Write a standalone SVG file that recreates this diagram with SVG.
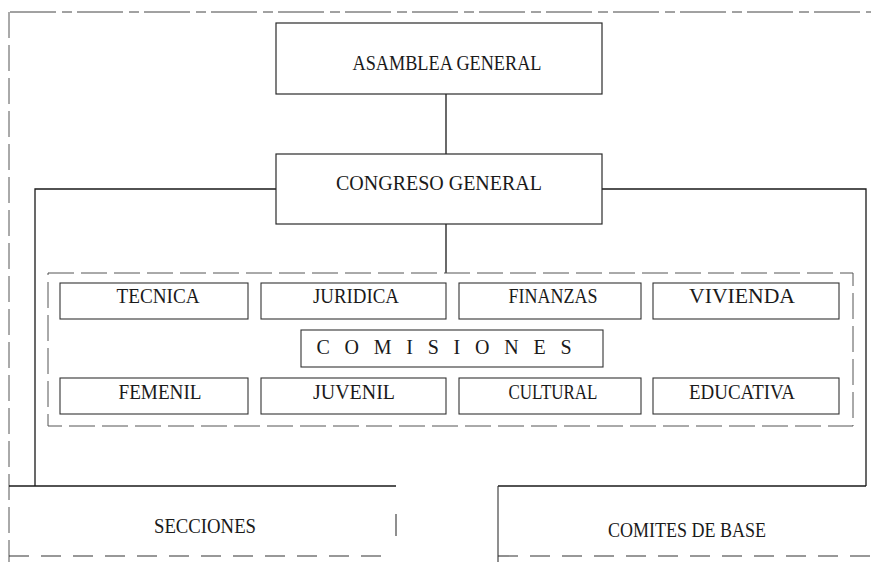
<svg xmlns="http://www.w3.org/2000/svg" width="871" height="562" viewBox="0 0 871 562">
<style>
  .bg{fill:#ffffff}
  .box{fill:none;stroke:#2a2a2a;stroke-width:1.2}
  .sub{fill:none;stroke:#333333;stroke-width:1.1}
  .frame{fill:none;stroke:#444444;stroke-width:1;stroke-dasharray:46 6 10 5}
  .lite{fill:none;stroke:#555555;stroke-width:1;stroke-dasharray:26 7}
  .dash{fill:none;stroke:#333333;stroke-width:1.1;stroke-dasharray:20 12}
  .conn{fill:none;stroke:#1a1a1a;stroke-width:1.3}
  text{font-family:"Liberation Serif","Times New Roman",serif;font-size:20px;fill:#1a1a1a;text-anchor:middle}
</style>
<rect class="bg" x="0" y="0" width="871" height="562"/>

<g id="frame">
  <line class="frame" x1="10" y1="12" x2="871" y2="12"/>
  <line class="lite" x1="9" y1="12" x2="9" y2="562"/>
</g>

<g id="connectors">
  <line class="conn" x1="446" y1="94" x2="446" y2="154"/>
  <polyline class="conn" points="276,189 35,189 35,486"/>
  <polyline class="conn" points="602,189 866,189 866,486"/>
  <line class="conn" x1="446" y1="224" x2="446" y2="273"/>
</g>

<g id="asamblea-general">
  <rect class="box" x="276" y="23" width="326" height="71"/>
  <text x="447" y="69.5" textLength="189" lengthAdjust="spacingAndGlyphs">ASAMBLEA GENERAL</text>
</g>

<g id="congreso-general">
  <rect class="box" x="276" y="154" width="326" height="70"/>
  <text x="439" y="190" textLength="206" lengthAdjust="spacingAndGlyphs">CONGRESO GENERAL</text>
</g>

<g id="comisiones-grupo">
  <rect class="lite" x="48" y="273" width="805" height="153"/>
</g>

<g id="tecnica">
  <rect class="sub" x="60" y="283" width="188" height="36"/>
  <text x="158" y="302.5" textLength="83" lengthAdjust="spacingAndGlyphs">TECNICA</text>
</g>
<g id="juridica">
  <rect class="sub" x="261" y="283" width="185" height="36"/>
  <text x="356" y="302.5" textLength="86" lengthAdjust="spacingAndGlyphs">JURIDICA</text>
</g>
<g id="finanzas">
  <rect class="sub" x="459" y="283" width="182" height="36"/>
  <text x="553" y="302.5" textLength="89" lengthAdjust="spacingAndGlyphs">FINANZAS</text>
</g>
<g id="vivienda">
  <rect class="sub" x="653" y="283" width="186" height="36"/>
  <text x="742" y="302.5" textLength="106" lengthAdjust="spacingAndGlyphs">VIVIENDA</text>
</g>

<g id="comisiones">
  <rect class="sub" x="301" y="330" width="302" height="37"/>
  <text x="444" y="354" textLength="255" lengthAdjust="spacing">C O M I S I O N E S</text>
</g>

<g id="femenil">
  <rect class="sub" x="60" y="378" width="188" height="36"/>
  <text x="160" y="399" textLength="83" lengthAdjust="spacingAndGlyphs">FEMENIL</text>
</g>
<g id="juvenil">
  <rect class="sub" x="261" y="378" width="185" height="36"/>
  <text x="354" y="399" textLength="82" lengthAdjust="spacingAndGlyphs">JUVENIL</text>
</g>
<g id="cultural">
  <rect class="sub" x="459" y="378" width="182" height="36"/>
  <text x="553" y="399" textLength="89" lengthAdjust="spacingAndGlyphs">CULTURAL</text>
</g>
<g id="educativa">
  <rect class="sub" x="653" y="378" width="186" height="36"/>
  <text x="742" y="399" textLength="106" lengthAdjust="spacingAndGlyphs">EDUCATIVA</text>
</g>

<g id="secciones">
  <line class="conn" x1="9" y1="486" x2="396" y2="486"/>
  <line class="sub" x1="396" y1="514" x2="396" y2="536"/>
  <line class="dash" x1="9" y1="556" x2="390" y2="556"/>
  <text x="205" y="533" textLength="102" lengthAdjust="spacingAndGlyphs">SECCIONES</text>
</g>

<g id="comites-de-base">
  <line class="conn" x1="498" y1="486" x2="866" y2="486"/>
  <line class="sub" x1="498" y1="486" x2="498" y2="562"/>
  <line class="dash" x1="498" y1="556" x2="871" y2="556"/>
  <text x="687" y="537" textLength="158" lengthAdjust="spacingAndGlyphs">COMITES DE BASE</text>
</g>
</svg>
